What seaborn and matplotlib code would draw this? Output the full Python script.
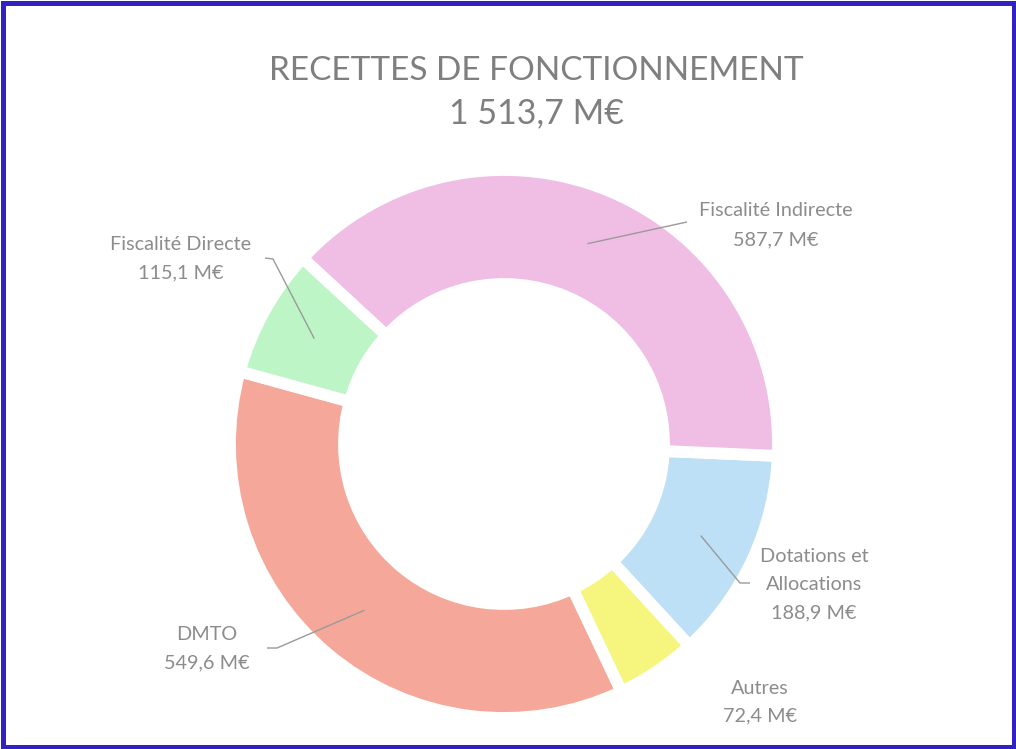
import numpy as np
import matplotlib
matplotlib.use("Agg")
import matplotlib.pyplot as plt
import seaborn as sns

sns.set_theme(style="white")
plt.rcParams['font.family'] = ['Lato', 'DejaVu Sans']

# ---- data ----
categories = ["Dotations et\nAllocations", "Autres", "DMTO", "Fiscalité Directe", "Fiscalité Indirecte"]
values = [188.9, 72.4, 549.6, 115.1, 587.7]
value_labels = ["188,9 M€", "72,4 M€", "549,6 M€", "115,1 M€", "587,7 M€"]
colors = ["#BDE0F6", "#F6F57E", "#F5A89A", "#BEF5C7", "#F0BDE4"]
title_line1 = "RECETTES DE FONCTIONNEMENT"
title_line2 = "1 513,7 M€"

W, H = 1016, 749
fig = plt.figure(figsize=(W / 100, H / 100), dpi=100)
ax = fig.add_axes([0, 0, 1, 1])

def Y(y):
    return H - y

cx, cy = 504, Y(444)
R_out, R_in = 274, 160
gap_lw = 8.5

wedges, _ = ax.pie(values, colors=colors, startangle=-2.5, counterclock=False,
                   radius=R_out, center=(cx, cy), frame=True,
                   wedgeprops=dict(width=R_out - R_in, edgecolor="white", linewidth=gap_lw))
ax.set_xlim(0, W)
ax.set_ylim(0, H)
ax.set_aspect("equal")
ax.axis("off")

txt_color = "#8c8c8c"
line_color = "#9a9a9a"
label_fs = 14.3

# label layout: (text center x, line y's, elbow, leader start)
layout = {
    0: dict(x=814, y=[557, 585, 613], elbow=(740, 583), start=(750, 583)),
    1: dict(x=760, y=[688, 716], elbow=None, start=None),
    2: dict(x=207, y=[635, 663], elbow=(277, 648), start=(267, 648)),
    3: dict(x=181, y=[245, 273], elbow=(273, 259), start=(265, 258)),
    4: dict(x=776, y=[211, 240], elbow=(687, 222), start=(687, 222)),
}

r_anchor = (R_out + R_in) / 2
for i, w in enumerate(wedges):
    lay = layout[i]
    lines = categories[i].split("\n") + [value_labels[i]]
    for ln, yy in zip(lines, lay["y"]):
        ax.text(lay["x"], Y(yy), ln, ha="center", va="center",
                fontsize=label_fs, color=txt_color)
    if lay["elbow"] is not None:
        ang = np.deg2rad((w.theta1 + w.theta2) / 2)
        ax_ = cx + r_anchor * np.cos(ang)
        ay_ = cy + r_anchor * np.sin(ang)
        xs = [lay["start"][0], lay["elbow"][0], ax_]
        ys = [Y(lay["start"][1]), Y(lay["elbow"][1]), ay_]
        ax.plot(xs, ys, color=line_color, lw=1.0, solid_capstyle="butt")

ax.text(536, Y(71), title_line1, ha="center", va="center", fontsize=24, color="#7f7f7f")
ax.text(536, Y(113), title_line2, ha="center", va="center", fontsize=24.5, color="#7f7f7f")

# blue frame
ax.add_patch(plt.Rectangle((2.5, 2.5), W - 5, H - 5, fill=False,
                           edgecolor="#3222C4", linewidth=3.6, clip_on=False))

fig.savefig("out.png", dpi=100, facecolor="white")
